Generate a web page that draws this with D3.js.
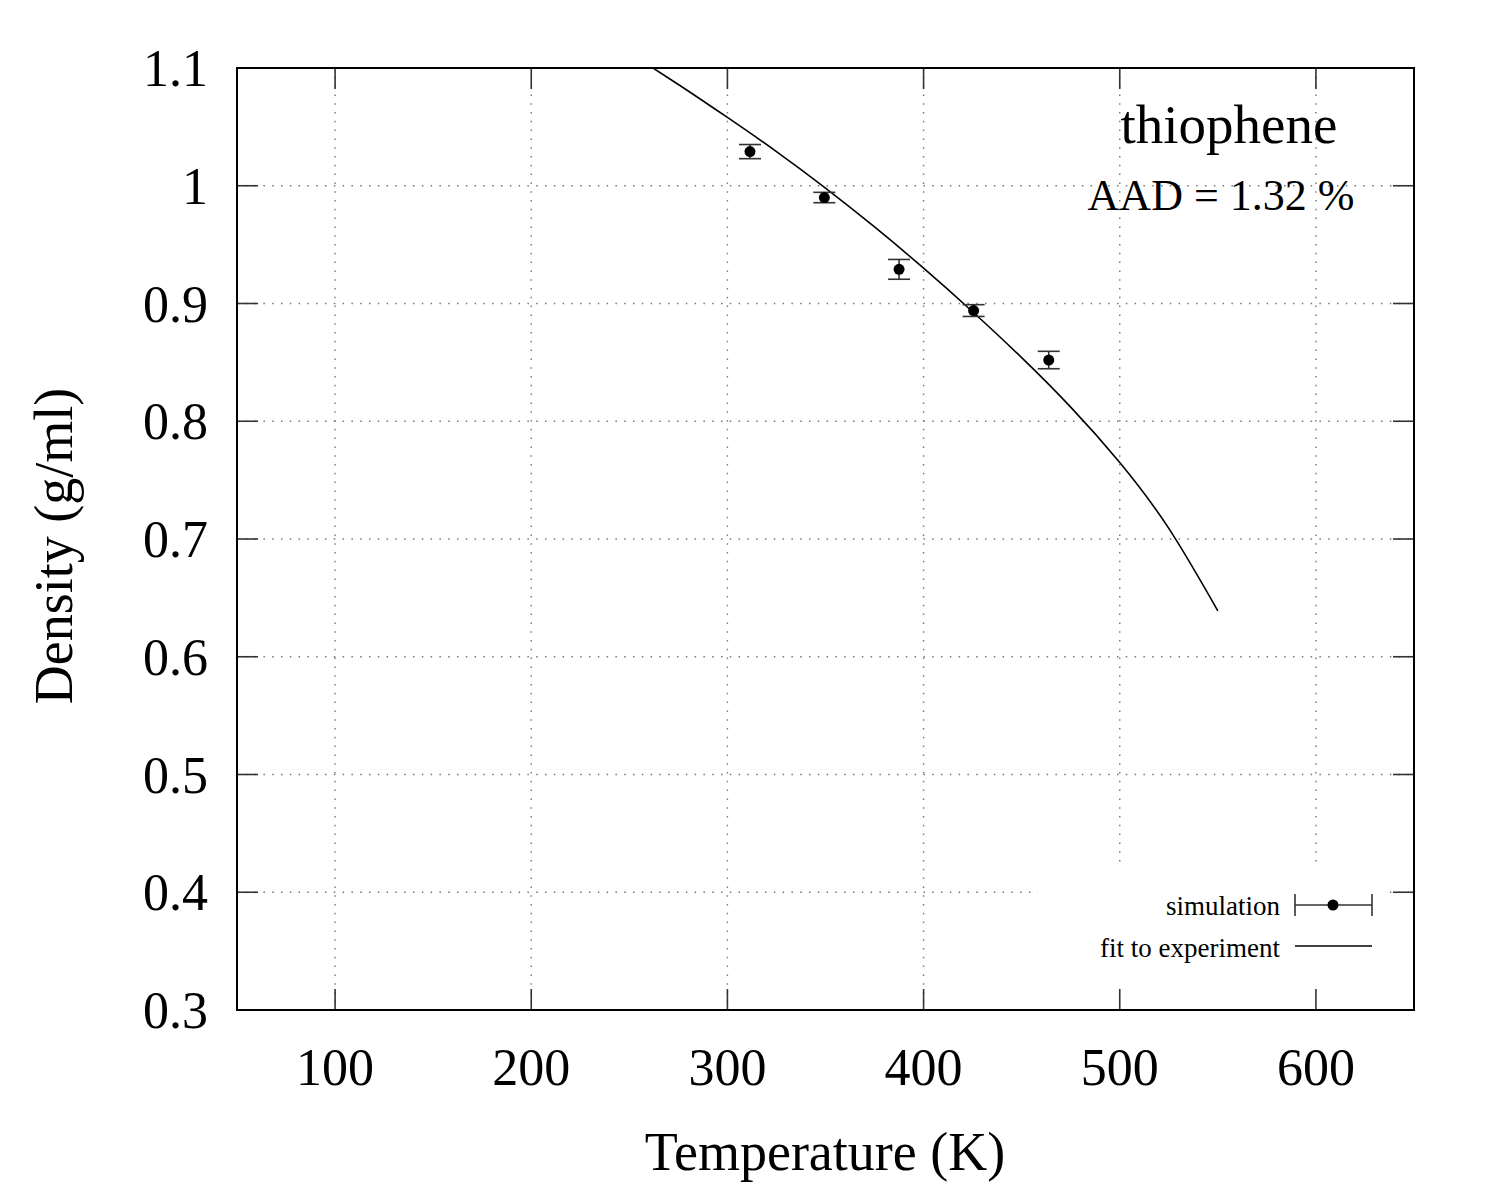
<!DOCTYPE html>
<html>
<head>
<meta charset="utf-8">
<script src="https://cdn.jsdelivr.net/npm/d3@7"></script>
<style>
  body { margin: 0; background: #fff; }
  text { font-family: "Liberation Serif", "DejaVu Serif", serif; fill: #000; }
</style>
</head>
<body>
<div id="chart"></div>
<script>
// simulation points (K, g/ml) and their error half-widths
const simT = [311.5, 349.4, 387.5, 425.5, 463.8];
const simRho = [1.029, 0.990, 0.929, 0.894, 0.852];
const simErr = [0.006, 0.0044, 0.0084, 0.005, 0.0074];

// fit to experiment (first point sits above the frame and is clipped)
const fitT = [250, 275, 300, 325, 350, 375, 400, 425, 450, 475, 500, 525, 550];
const fitRho = [1.113, 1.086, 1.058, 1.029, 0.998, 0.965, 0.930, 0.893, 0.854, 0.812, 0.765, 0.709, 0.639];

const xTicks = [100, 200, 300, 400, 500, 600];
const yTicks = [0.3, 0.4, 0.5, 0.6, 0.7, 0.8, 0.9, 1.0, 1.1];

const width = 1500;
const height = 1200;
const margin = { top: 68, right: 86, bottom: 190, left: 237 };

const svg = d3.select('#chart')
  .append('svg')
  .attr('width', width)
  .attr('height', height);

const x = d3.scaleLinear()
  .domain([50, 650])
  .range([margin.left, width - margin.right]);

const y = d3.scaleLinear()
  .domain([0.3, 1.1])
  .range([height - margin.bottom, margin.top]);

const x0 = x.range()[0], x1 = x.range()[1];
const y0 = y.range()[0], y1 = y.range()[1];

// grid
const grid = svg.append('g')
  .attr('stroke', '#777')
  .attr('stroke-width', 1.4)
  .attr('stroke-dasharray', '1.5 7.3');

grid.selectAll('line.gx')
  .data(xTicks)
  .join('line')
  .attr('x1', d => x(d)).attr('x2', d => x(d))
  .attr('y1', y1).attr('y2', y0);

grid.selectAll('line.gy')
  .data(yTicks.slice(1, -1))
  .join('line')
  .attr('y1', d => y(d)).attr('y2', d => y(d))
  .attr('x1', x0).attr('x2', x1);

// legend box background hides the grid
svg.append('rect')
  .attr('x', 1038).attr('y', 864)
  .attr('width', 347).attr('height', y0 - 864)
  .attr('fill', '#fff');

// ticks (inward, mirrored)
const tickLen = 21;
const ticks = svg.append('g').attr('stroke', '#333').attr('stroke-width', 1.6);

function xAxis(g, yPos, dir) {
  g.selectAll('line')
    .data(xTicks)
    .join('line')
    .attr('x1', d => x(d)).attr('x2', d => x(d))
    .attr('y1', yPos).attr('y2', yPos + dir * tickLen);
}
function yAxis(g, xPos, dir) {
  g.selectAll('line')
    .data(yTicks)
    .join('line')
    .attr('y1', d => y(d)).attr('y2', d => y(d))
    .attr('x1', xPos).attr('x2', xPos + dir * tickLen);
}
ticks.append('g').call(xAxis, y0, -1);
ticks.append('g').call(xAxis, y1, 1);
ticks.append('g').call(yAxis, x0, 1);
ticks.append('g').call(yAxis, x1, -1);

// tick labels
svg.append('g')
  .selectAll('text')
  .data(xTicks)
  .join('text')
  .attr('x', d => x(d))
  .attr('y', 1085)
  .attr('text-anchor', 'middle')
  .attr('font-size', 52)
  .text(d => d);

svg.append('g')
  .selectAll('text')
  .data(yTicks)
  .join('text')
  .attr('x', 208)
  .attr('y', d => y(d) + 18)
  .attr('text-anchor', 'end')
  .attr('font-size', 52)
  .text(d => d3.format('~g')(d));

// border
svg.append('rect')
  .attr('x', x0).attr('y', y1)
  .attr('width', x1 - x0).attr('height', y0 - y1)
  .attr('fill', 'none')
  .attr('stroke', '#000')
  .attr('stroke-width', 2);

// clip
svg.append('clipPath').attr('id', 'plot')
  .append('rect')
  .attr('x', x0).attr('y', y1)
  .attr('width', x1 - x0).attr('height', y0 - y1);

// fit curve
const fit = fitT.map((t, i) => [t, fitRho[i]]);
svg.append('path')
  .datum(fit)
  .attr('clip-path', 'url(#plot)')
  .attr('fill', 'none')
  .attr('stroke', '#000')
  .attr('stroke-width', 1.6)
  .attr('d', d3.line().x(d => x(d[0])).y(d => y(d[1])).curve(d3.curveNatural));

// simulation points with error bars
const sim = simT.map((t, i) => ({ t: t, rho: simRho[i], err: simErr[i] }));
const capW = 11;
const bars = svg.append('g').attr('stroke', '#333').attr('stroke-width', 1.6);
bars.selectAll('line.v')
  .data(sim)
  .join('line')
  .attr('x1', d => x(d.t)).attr('x2', d => x(d.t))
  .attr('y1', d => y(d.rho - d.err)).attr('y2', d => y(d.rho + d.err));
bars.selectAll('line.top')
  .data(sim)
  .join('line')
  .attr('x1', d => x(d.t) - capW).attr('x2', d => x(d.t) + capW)
  .attr('y1', d => y(d.rho + d.err)).attr('y2', d => y(d.rho + d.err));
bars.selectAll('line.bot')
  .data(sim)
  .join('line')
  .attr('x1', d => x(d.t) - capW).attr('x2', d => x(d.t) + capW)
  .attr('y1', d => y(d.rho - d.err)).attr('y2', d => y(d.rho - d.err));

svg.append('g')
  .selectAll('circle')
  .data(sim)
  .join('circle')
  .attr('cx', d => x(d.t))
  .attr('cy', d => y(d.rho))
  .attr('r', 5.5)
  .attr('fill', '#000');

// labels inside plot
svg.append('text')
  .attr('x', 1229).attr('y', 143)
  .attr('text-anchor', 'middle')
  .attr('font-size', 55)
  .text('thiophene');

svg.append('text')
  .attr('x', 1221).attr('y', 210)
  .attr('text-anchor', 'middle')
  .attr('font-size', 44)
  .text('AAD = 1.32 %');

// legend
svg.append('text')
  .attr('x', 1280).attr('y', 915)
  .attr('text-anchor', 'end')
  .attr('font-size', 27)
  .text('simulation');
svg.append('text')
  .attr('x', 1280).attr('y', 957)
  .attr('text-anchor', 'end')
  .attr('font-size', 27)
  .text('fit to experiment');

const leg = svg.append('g').attr('stroke', '#333').attr('stroke-width', 1.6);
leg.append('line').attr('x1', 1295).attr('x2', 1372).attr('y1', 905).attr('y2', 905);
leg.append('line').attr('x1', 1295).attr('x2', 1295).attr('y1', 894).attr('y2', 916);
leg.append('line').attr('x1', 1372).attr('x2', 1372).attr('y1', 894).attr('y2', 916);
svg.append('circle').attr('cx', 1333).attr('cy', 905).attr('r', 5.5).attr('fill', '#000');
svg.append('line')
  .attr('x1', 1295).attr('x2', 1372).attr('y1', 946).attr('y2', 946)
  .attr('stroke', '#000').attr('stroke-width', 1.6);

// axis titles
svg.append('text')
  .attr('x', 825).attr('y', 1170)
  .attr('text-anchor', 'middle')
  .attr('font-size', 54)
  .text('Temperature (K)');

svg.append('text')
  .attr('transform', 'translate(72,' + 546 + ') rotate(-90)')
  .attr('text-anchor', 'middle')
  .attr('font-size', 54)
  .text('Density (g/ml)');
</script>
</body>
</html>
